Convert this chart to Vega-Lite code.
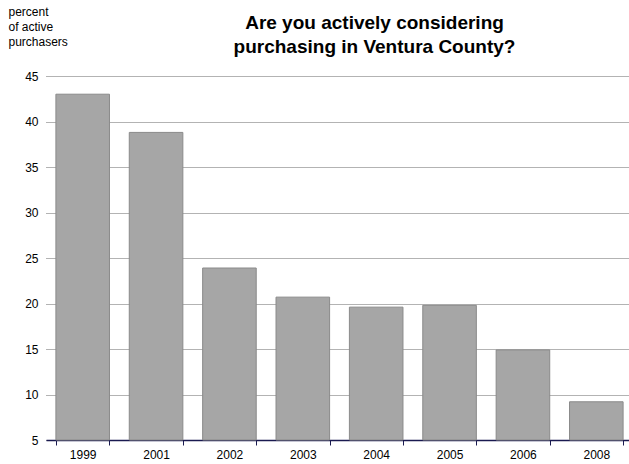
{
  "$schema": "https://vega.github.io/schema/vega-lite/v6.json",
  "width": 587,
  "height": 364,
  "autosize": {"type": "none"},
  "padding": {"left": 46, "top": 76, "right": 0, "bottom": 24},
  "background": "white",
  "title": {
    "text": ["Are you actively considering", "purchasing in Ventura County?"],
    "font": "Liberation Sans",
    "fontSize": 19,
    "fontWeight": "bold",
    "color": "#000",
    "anchor": "middle",
    "dx": 35,
    "offset": -52,
    "lineHeight": 24
  },
  "data": {
    "values": [
      {"year": "1999", "pct": 43.0},
      {"year": "2001", "pct": 38.8},
      {"year": "2002", "pct": 23.9},
      {"year": "2003", "pct": 20.7},
      {"year": "2004", "pct": 19.6},
      {"year": "2005", "pct": 19.8},
      {"year": "2006", "pct": 14.9},
      {"year": "2008", "pct": 9.2}
    ]
  },
  "mark": {"type": "bar", "fill": "#a6a6a6", "stroke": "#8a8a8a", "strokeWidth": 1},
  "encoding": {
    "x": {
      "field": "year", "type": "nominal", "sort": null,
      "scale": {"paddingInner": 0.27, "paddingOuter": 0.135},
      "axis": {
        "title": null, "labelAngle": 0, "labelFont": "Liberation Sans", "labelFontSize": 12,
        "labelColor": "#000", "labelPadding": 4,
        "domainColor": "#1a1a50", "domainWidth": 1.5,
        "tickBand": "extent", "tickColor": "#1a1a50", "tickSize": 5, "tickWidth": 1
      }
    },
    "y": {
      "field": "pct", "type": "quantitative",
      "scale": {"domain": [5, 45], "zero": false, "nice": false},
      "axis": {
        "values": [5, 10, 15, 20, 25, 30, 35, 40, 45],
        "domain": false, "ticks": false,
        "grid": true, "gridColor": "#666", "gridDash": [1, 1], "gridWidth": 1,
        "labelFont": "Liberation Sans", "labelFontSize": 12, "labelColor": "#000", "labelPadding": 8,
        "title": ["percent", "of active", "purchasers"],
        "titleFont": "Liberation Sans", "titleFontSize": 12, "titleFontWeight": "normal",
        "titleColor": "#000", "titleAngle": 0, "titleAlign": "left", "titleBaseline": "top",
        "titleX": -38, "titleY": -70, "titleLineHeight": 15
      }
    },
    "y2": {"datum": 5}
  },
  "config": {"view": {"stroke": null}}
}
